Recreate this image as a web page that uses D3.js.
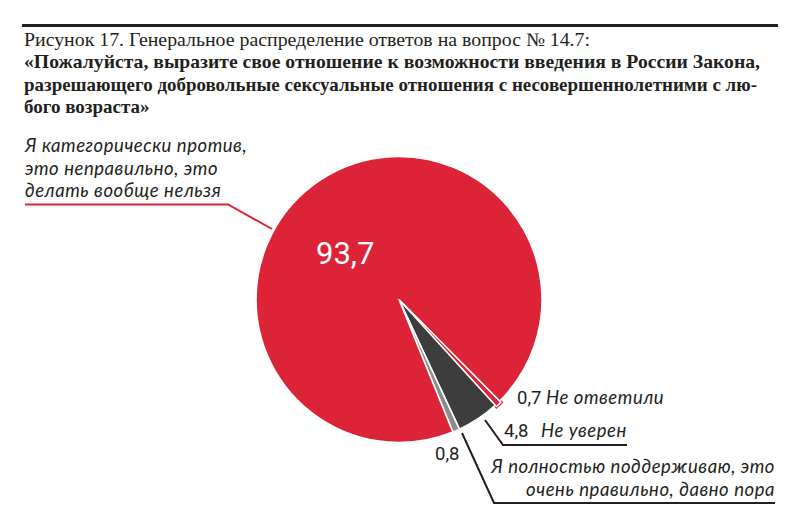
<!DOCTYPE html>
<html><head><meta charset="utf-8">
<script src="https://cdn.jsdelivr.net/npm/d3@7/dist/d3.min.js"></script>
<style>body{margin:0;background:#fff}svg{display:block}</style>
</head><body>
<script>
const categories = ["Не ответили", "Не уверен", "Я полностью поддерживаю, это очень правильно, давно пора", "Я категорически против, это неправильно, это делать вообще нельзя"];
const values = [0.7, 4.8, 0.8, 93.7];
const valueLabels = ["0,7", "4,8", "0,8", "93,7"];
const colors = ["#dc2337", "#3d3d3d", "#8c8c8c", "#dc2337"];
const titleLines = [
  "Рисунок 17. Генеральное распределение ответов на вопрос № 14.7:",
  "«Пожалуйста, выразите свое отношение к возможности введения в России Закона,",
  "разрешающего добровольные сексуальные отношения с несовершеннолетними с лю-",
  "бого возраста»"
];

const W = 800, H = 530;
const svg = d3.select("body").append("svg").attr("width", W).attr("height", H);
const ink = "#231f20";

svg.append("line").attr("x1", 22).attr("x2", 778).attr("y1", 25.5).attr("y2", 25.5)
  .attr("stroke", ink).attr("stroke-width", 3);

const tl = [{y:46, w:566, b:false},{y:68, w:736, b:true},{y:91, w:733, b:true},{y:113, w:0, b:true}];
titleLines.forEach((t,i)=>{
  const tx = svg.append("text").attr("x", 24).attr("y", tl[i].y)
    .attr("font-family", "Liberation Serif, serif").attr("font-size", 19)
    .attr("font-weight", tl[i].b ? "bold" : "normal").attr("fill", ink).text(t);
  if (tl[i].w) tx.attr("textLength", tl[i].w).attr("lengthAdjust", "spacingAndGlyphs");
});

const cx = 399, cy = 299.5, R = 143;
const a0 = 135.2 * Math.PI / 180;
const pie = d3.pie().sort(null).startAngle(a0).endAngle(a0 + 2*Math.PI)(values);
const arc = d3.arc().innerRadius(0).outerRadius(R);
const g = svg.append("g").attr("transform", `translate(${cx},${cy})`);

const p0 = pie[0];
g.append("path").attr("d", d3.arc().innerRadius(0).outerRadius(R+3.5)({startAngle:p0.startAngle-0.012, endAngle:p0.endAngle+0.012}))
  .attr("fill", colors[0]);
g.append("path").attr("d", d3.arc().innerRadius(0).outerRadius(R+2.5)({startAngle:p0.startAngle-0.004, endAngle:p0.endAngle+0.004}))
  .attr("fill", "#fff");

g.selectAll("path.slice").data(pie).enter().append("path").attr("class","slice")
  .attr("d", (d,i)=> i===0 ? d3.arc().innerRadius(0).outerRadius(R+1)({startAngle:d.startAngle+0.006,endAngle:d.endAngle-0.006}) : arc(d))
  .attr("fill", (d,i)=>colors[i])
  .attr("stroke", (d,i)=> i===0 ? "none" : "#fff")
  .attr("stroke-width", 1.6).attr("stroke-linejoin","round");

svg.append("text").attr("x", 316).attr("y", 264).attr("fill", "#fff")
  .attr("font-family", "Roboto, sans-serif").attr("font-size", 31).text(valueLabels[3]);

const labFont = "Lato, sans-serif";
const fs = 18.5, nfs = 18.5, ls = 0.55;
["Я категорически против,", "это неправильно, это", "делать вообще нельзя"].forEach((t,i)=>{
  svg.append("text").attr("x", 25).attr("y", 152 + i*22.5).attr("font-family", labFont)
    .attr("font-style","italic").attr("font-size", fs).attr("letter-spacing", ls).attr("fill", ink).text(t);
});
svg.append("polyline").attr("points", "25,204.5 228,204.5 272,229")
  .attr("fill","none").attr("stroke", colors[3]).attr("stroke-width", 2);

const l0 = svg.append("text").attr("y", 404).attr("font-family", labFont).attr("font-size", fs).attr("fill", ink);
l0.append("tspan").attr("x", 517).attr("font-family","Roboto, sans-serif").attr("font-size", nfs).text(valueLabels[0]);
l0.append("tspan").attr("x", 546).attr("font-style","italic").attr("letter-spacing", ls).text(categories[0]);

const l1 = svg.append("text").attr("y", 437).attr("font-family", labFont).attr("font-size", fs).attr("fill", ink);
l1.append("tspan").attr("x", 504).attr("font-family","Roboto, sans-serif").attr("font-size", nfs).text(valueLabels[1]);
l1.append("tspan").attr("x", 541).attr("font-style","italic").attr("letter-spacing", ls).text(categories[1]);
svg.append("polyline").attr("points", "485,420 503,445 627,445")
  .attr("fill","none").attr("stroke", ink).attr("stroke-width", 2);

svg.append("text").attr("x", 435).attr("y", 460).attr("font-family","Roboto, sans-serif")
  .attr("font-size", nfs).attr("fill", ink).text(valueLabels[2]);
["Я полностью поддерживаю, это", "очень правильно, давно пора"].forEach((t,i)=>{
  svg.append("text").attr("x", 775).attr("y", 473 + i*23).attr("text-anchor","end")
    .attr("font-family", labFont).attr("font-style","italic").attr("font-size", fs).attr("letter-spacing", ls).attr("fill", ink).text(t);
});
svg.append("polyline").attr("points", "462,433 494,503 775,503")
  .attr("fill","none").attr("stroke", ink).attr("stroke-width", 2);
</script>
</body></html>
